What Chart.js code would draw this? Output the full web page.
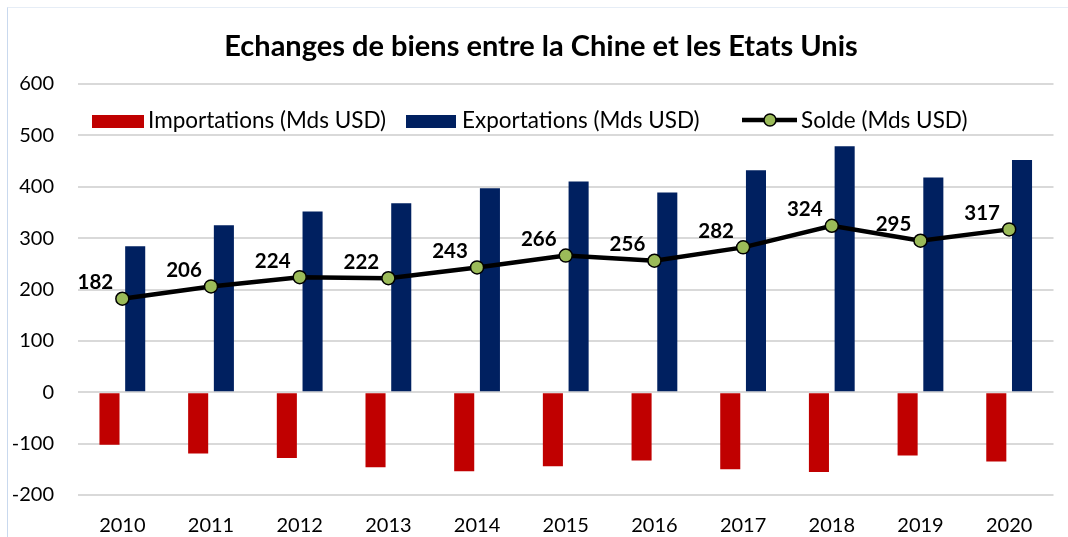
<!DOCTYPE html>
<html>
<head>
<meta charset="utf-8">
<script src="https://cdn.jsdelivr.net/npm/chart.js@4"></script>
<style>
  html, body { margin: 0; padding: 0; background: #fff; }
  #wrap { position: relative; width: 1068px; height: 537px; overflow: hidden; }
  #frame { position: absolute; left: 7px; top: 7px; width: 1200px; height: 700px; border-left: 1px solid #c9d9ee; border-top: 1px solid #e6edf6; pointer-events: none; }
  canvas { position: absolute; left: 0; top: 0; }
</style>
</head>
<body>
<div id="wrap">
  <canvas id="c" width="1068" height="537"></canvas>
  <div id="frame"></div>
</div>
<script>
const titleText = "Echanges de biens entre la Chine et les Etats Unis";
const years = ["2010","2011","2012","2013","2014","2015","2016","2017","2018","2019","2020"];
const importations = [-102, -119, -128, -146, -154, -144, -133, -150, -155, -123, -135];
const exportations = [284, 325, 352, 368, 397, 410, 389, 432, 479, 418, 452];
const solde = [182, 206, 224, 222, 243, 266, 256, 282, 324, 295, 317];
const yTicks = [600, 500, 400, 300, 200, 100, 0, -100, -200];
const legendLabels = ["Importations (Mds USD)", "Exportations (Mds USD)", "Solde (Mds USD)"];

const FONT = "Lato, 'Open Sans', sans-serif";
const RED = "#C00000", NAVY = "#002060", GREEN = "#9BBB59";

const titlePlugin = {
  id: 'titlePlugin',
  afterDraw(chart) {
    const ctx = chart.ctx;
    ctx.save();
    ctx.font = "bold 29px " + FONT;
    ctx.fillStyle = "#000";
    ctx.textAlign = "center";
    ctx.textBaseline = "middle";
    ctx.fillText(titleText, 541, 47);
    ctx.restore();
  }
};

const dataLabels = {
  id: 'dataLabels',
  afterDatasetsDraw(chart) {
    const meta = chart.getDatasetMeta(2);
    const ctx = chart.ctx;
    ctx.save();
    ctx.font = "bold 20.5px " + FONT;
    ctx.fillStyle = "#000";
    ctx.textAlign = "center";
    ctx.textBaseline = "middle";
    meta.data.forEach((pt, i) => {
      ctx.fillText(String(solde[i]), pt.x - 27, pt.y - 16);
    });
    ctx.restore();
  }
};

const customLegend = {
  id: 'customLegend',
  afterDraw(chart) {
    const ctx = chart.ctx;
    ctx.save();
    ctx.font = "22.5px " + FONT;
    ctx.fillStyle = "#000";
    ctx.textBaseline = "middle";
    const y = 121;
    ctx.fillStyle = RED;
    ctx.fillRect(92, 115, 52, 13);
    ctx.fillStyle = "#000";
    ctx.fillText(legendLabels[0], 148, y);
    ctx.fillStyle = NAVY;
    ctx.fillRect(406, 115, 50, 13);
    ctx.fillStyle = "#000";
    ctx.fillText(legendLabels[1], 462, y);
    ctx.strokeStyle = "#000";
    ctx.lineWidth = 4.5;
    ctx.beginPath();
    ctx.moveTo(742, 120);
    ctx.lineTo(797, 120);
    ctx.stroke();
    ctx.beginPath();
    ctx.arc(770, 120, 6, 0, Math.PI * 2);
    ctx.fillStyle = GREEN;
    ctx.fill();
    ctx.lineWidth = 1.5;
    ctx.stroke();
    ctx.fillStyle = "#000";
    ctx.fillText(legendLabels[2], 801, y);
    ctx.restore();
  }
};

new Chart(document.getElementById('c'), {
  type: 'bar',
  data: {
    labels: years,
    datasets: [
      { label: legendLabels[0], data: importations, backgroundColor: RED, order: 1,
        categoryPercentage: 0.58, barPercentage: 0.78 },
      { label: legendLabels[1], data: exportations, backgroundColor: NAVY, order: 1,
        categoryPercentage: 0.58, barPercentage: 0.78 },
      { type: 'line', label: legendLabels[2], data: solde, order: 0,
        borderColor: "#000", borderWidth: 4.5, pointRadius: 6.5, pointHoverRadius: 6.5,
        pointBackgroundColor: GREEN, pointBorderColor: "#000", pointBorderWidth: 1.5,
        tension: 0, fill: false }
    ]
  },
  options: {
    responsive: false,
    animation: false,
    events: [],
    layout: { padding: { left: 0, right: 14.5, top: 84, bottom: 0 } },
    plugins: {
      legend: { display: false },
      tooltip: { enabled: false },
      title: { display: false }
    },
    scales: {
      x: {
        grid: { display: false, drawTicks: false },
        border: { display: false },
        ticks: { color: "#000", font: { family: FONT, size: 20 }, padding: 19, maxRotation: 0 },
        afterFit(s) { s.height = 42; }
      },
      y: {
        min: -200, max: 600,
        afterBuildTicks(s) { s.ticks = yTicks.map(v => ({ value: v })); },
        grid: { color: "#d9d9d9", lineWidth: 2, drawTicks: false },
        border: { display: false },
        ticks: { color: "#000", font: { family: FONT, size: 20 }, padding: 24 },
        afterFit(s) { s.width = 78; }
      }
    }
  },
  plugins: [dataLabels, customLegend, titlePlugin]
});
</script>
</body>
</html>
